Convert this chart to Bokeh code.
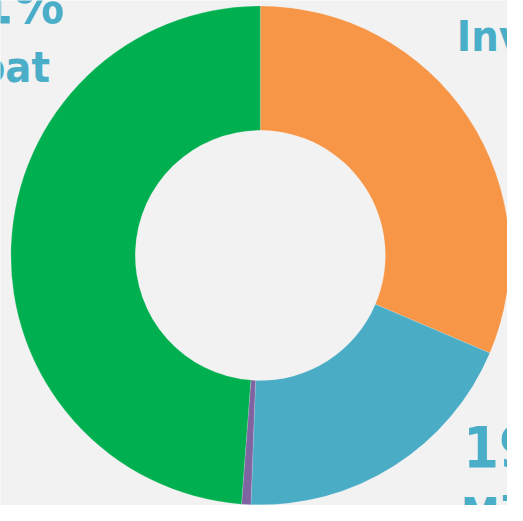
import numpy as np
from bokeh.plotting import figure
from bokeh.models import Range1d, ColumnDataSource
from bokeh.core.properties import value
from bokeh.embed import file_html
from bokeh.resources import INLINE

# data (percent shares)
categories = ["Inv", "Mi", "Purple", "oat"]
shares = [31.4, 19.2, 0.6, 48.8]
colors = ["#F79646", "#4BACC6", "#8064A2", "#00B050"]

# labels visible in the crop
pct_labels = ["19%", "1%"]
name_labels = ["Inv", "Mi", "oat"]

W, H = 507, 505
RW, RH = 523, 521  # reference frame in data units
p = figure(width=W, height=H, output_backend="svg", toolbar_location=None,
           x_range=Range1d(0, RW), y_range=Range1d(0, RH),
           min_border=0)
p.axis.visible = False
p.grid.visible = False
p.background_fill_color = "#F2F2F2"
p.border_fill_color = "#F2F2F2"
p.outline_line_color = None

frac = np.array(shares) / np.sum(shares)
cum = np.concatenate([[0], np.cumsum(frac)])
start = np.pi / 2 - cum[:-1] * 2 * np.pi
end = np.pi / 2 - cum[1:] * 2 * np.pi

cx, cy = 268, RH - 263
src = ColumnDataSource(dict(start=start, end=end, color=colors, cat=categories))
p.annular_wedge(x=cx, y=cy, inner_radius=129, outer_radius=257.3,
                start_angle="start", end_angle="end", direction="clock",
                fill_color="color", line_color="#FFFFFF", line_width=0.5,
                line_alpha=0.3, source=src)

font = value("DejaVu Sans Condensed")
txt_color = "#4BAEC8"
big = value("57px")
small = value("43px")

# right side labels (left aligned)
p.text(x=[477.3], y=[RH - 462], text=[pct_labels[0]], text_font=font,
       text_font_style="bold", text_font_size=big, text_color=txt_color,
       text_align="left", text_baseline="alphabetic")
p.text(x=[470.7, 475], y=[RH - 36.5, RH - 528.5], text=[name_labels[0], name_labels[1]],
       text_font=font, text_font_style="bold", text_font_size=small,
       text_color=txt_color, text_align="left", text_baseline="alphabetic")

# left side labels (right aligned)
p.text(x=[66], y=[RH - 4], text=[pct_labels[1]], text_font=font,
       text_font_style="bold", text_font_size=big, text_color=txt_color,
       text_align="right", text_baseline="alphabetic")
p.text(x=[51], y=[RH - 69], text=[name_labels[2]], text_font=font,
       text_font_style="bold", text_font_size=small, text_color=txt_color,
       text_align="right", text_baseline="alphabetic")

open("out.html", "w").write(file_html(p, INLINE))
